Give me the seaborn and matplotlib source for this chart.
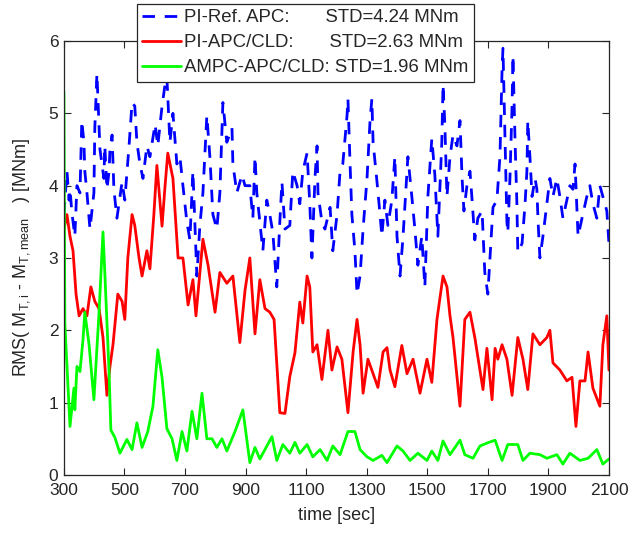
import matplotlib
matplotlib.use("Agg")
import matplotlib.pyplot as plt
import seaborn as sns
import pandas as pd

# --- RMS torque deviation, PI reference controller with APC ---
t_ref = [300, 310, 317, 320, 326, 336, 343, 353, 359, 366, 369, 376, 386, 399, 402, 409, 416, 419,
         432, 435, 442, 449, 452, 459, 465, 475, 485, 492, 501, 515, 525, 534, 541, 551, 561, 574,
         584, 601, 610, 624, 634, 640, 650, 660, 673, 683, 693, 706, 716, 726, 739, 749, 759, 772,
         782, 792, 805, 815, 825, 838, 855, 858, 871, 888, 898, 914, 924, 931, 937, 947, 957, 970,
         980, 990, 1003, 1013, 1020, 1030, 1046, 1056, 1070, 1079, 1089, 1103, 1112, 1119, 1129,
         1136, 1139, 1152, 1162, 1179, 1188, 1202, 1212, 1221, 1235, 1238, 1245, 1251, 1261, 1268,
         1278, 1288, 1301, 1311, 1317, 1321, 1334, 1344, 1350, 1360, 1370, 1383, 1393, 1400, 1410,
         1420, 1436, 1449, 1459, 1469, 1482, 1492, 1502, 1515, 1525, 1535, 1548, 1552, 1558, 1565,
         1575, 1585, 1598, 1608, 1615, 1621, 1631, 1641, 1648, 1657, 1667, 1681, 1690, 1700, 1707,
         1717, 1730, 1740, 1747, 1750, 1757, 1763, 1766, 1773, 1780, 1783, 1790, 1796, 1799, 1813,
         1823, 1829, 1832, 1839, 1846, 1856, 1862, 1866, 1872, 1882, 1895, 1905, 1915, 1928, 1938,
         1948, 1961, 1971, 1981, 1988, 1994, 1998, 2011, 2027, 2037, 2047, 2060, 2070, 2080, 2093,
         2100]
rms_ref = [3.6, 4.2, 3.8, 3.95, 3.64, 3.3, 4.0, 3.9, 4.9, 4.6, 4.2, 3.9, 3.4, 3.9, 4.8, 5.55, 4.8, 4.5,
           4.1, 4.55, 3.95, 4.2, 4.5, 4.7, 3.95, 3.55, 3.85, 4.05, 3.8, 4.55, 5.15, 5.1, 4.6, 4.3, 4.1, 4.55,
           4.4, 4.85, 4.55, 5.1, 5.4, 5.5, 4.6, 5.0, 4.3, 4.4, 4.0, 3.5, 3.25, 4.2, 2.75, 3.45, 3.9, 4.97,
           4.4, 3.6, 3.4, 3.9, 5.15, 4.6, 4.8, 4.3, 3.9, 4.15, 4.0, 4.0, 3.55, 4.4, 3.9, 3.5, 3.1, 3.8,
           3.6, 3.35, 2.6, 3.5, 4.05, 3.4, 3.45, 4.2, 4.0, 3.75, 4.2, 4.45, 3.75, 3.0, 4.1,
           4.55, 3.9, 3.5, 3.4, 3.7, 3.1, 3.6, 4.2, 4.3, 4.97, 5.2, 4.3, 3.6, 3.1, 2.5,
           2.75, 3.4, 4.1, 4.9, 5.2, 4.6, 4.05, 3.6, 3.3, 3.8, 3.45, 3.8, 4.4, 3.3, 2.75,
           3.3, 4.4, 3.85, 3.4, 2.9, 3.3, 2.6, 3.85, 4.65, 4.15, 3.3, 4.6, 5.4, 4.85, 3.85,
           4.4, 4.7, 4.55, 4.9, 4.1, 3.65, 4.0, 4.2, 3.8, 3.25, 3.55, 3.65, 2.8, 2.5, 3.0,
           3.7, 3.8, 4.4, 5.6, 5.9, 4.6, 3.5, 3.35, 4.1, 5.1, 5.8, 4.6, 3.75, 3.08, 3.2,
           3.75, 4.2, 4.9, 4.4, 3.85, 4.1, 3.95, 3.5, 3.0, 3.3, 3.75, 4.1, 3.85, 4.1, 3.85,
           3.55, 3.8, 4.0, 3.95, 4.3, 3.7, 3.3, 3.55, 3.85, 4.0, 3.75, 3.55, 4.0, 3.85, 3.65,
           3.2]

# --- PI controller with APC and CLD ---
t_pi = [300, 310, 320, 330, 340, 350, 363, 376, 389, 402, 416, 429, 442, 452, 462, 478, 492, 501,
        511, 525, 534, 548, 558, 574, 584, 597, 607, 624, 634, 643, 660, 677, 693, 710, 726, 736,
        759, 776, 799, 815, 838, 858, 881, 898, 914, 931, 947, 964, 980, 994, 1013, 1030, 1046,
        1063, 1079, 1089, 1103, 1112, 1122, 1136, 1152, 1172, 1185, 1202, 1218, 1238, 1255, 1268,
        1278, 1288, 1304, 1321, 1337, 1354, 1367, 1377, 1393, 1416, 1433, 1453, 1476, 1499, 1515,
        1532, 1552, 1565, 1575, 1585, 1608, 1624, 1641, 1657, 1684, 1697, 1714, 1724, 1733, 1747,
        1763, 1780, 1799, 1816, 1832, 1849, 1872, 1895, 1905, 1915, 1938, 1961, 1978, 1991, 2004,
        2021, 2031, 2047, 2070, 2080, 2093, 2100]
rms_pi = [3.4, 3.6, 3.3, 3.1, 2.5, 2.2, 2.3, 2.2, 2.6, 2.4, 2.3, 1.9, 1.1, 1.5, 1.8, 2.5, 2.4, 2.15,
          3.0, 3.6, 3.45, 3.0, 2.75, 3.1, 2.85, 3.6, 4.28, 3.44, 4.0, 4.45, 4.1, 3.0, 3.0, 2.35, 2.7, 2.2,
          3.26, 2.9, 2.25, 2.8, 2.65, 2.75, 1.83, 2.55, 3.0, 1.95, 2.7, 2.3, 2.25, 2.15, 0.86, 0.85, 1.36,
          1.69, 2.39, 2.1, 2.75, 2.6, 1.7, 1.8, 1.32, 2.0, 1.45, 1.77, 1.6, 0.86, 1.7, 2.15,
          1.8, 1.13, 1.6, 1.4, 1.21, 1.7, 1.76, 1.45, 1.22, 1.79, 1.4, 1.6, 1.13, 1.6, 1.28,
          2.15, 2.75, 2.6, 2.2, 1.9, 0.95, 2.15, 2.25, 1.9, 1.18, 1.75, 1.04, 1.75, 1.6, 1.8,
          1.6, 1.1, 1.9, 1.6, 1.18, 1.95, 1.8, 1.9, 2.0, 1.55, 1.45, 1.3, 1.35, 0.67, 1.3,
          1.3, 1.7, 1.2, 0.95, 1.8, 2.2, 1.45]

# --- AMPC controller with APC and CLD ---
t_ampc = [300, 303, 320, 333, 336, 343, 353, 363, 369, 383, 399, 416, 429, 435, 449, 455, 468, 485,
          508, 525, 541, 558, 577, 594, 610, 624, 640, 657, 673, 690, 706, 723, 739, 756, 772, 789,
          805, 822, 838, 865, 891, 914, 931, 947, 987, 1003, 1023, 1046, 1063, 1079, 1103, 1122,
          1146, 1169, 1188, 1212, 1238, 1261, 1278, 1301, 1321, 1350, 1367, 1400, 1420, 1443, 1469,
          1499, 1515, 1535, 1552, 1575, 1608, 1624, 1651, 1674, 1697, 1724, 1747, 1766, 1799, 1816,
          1839, 1872, 1895, 1928, 1948, 1971, 2004, 2031, 2060, 2080, 2100]
rms_ampc = [5.3, 2.1, 0.67, 1.2, 0.9, 1.5, 1.43, 1.87, 2.25, 1.8, 1.04, 2.25, 3.36, 2.8, 1.43, 0.62, 0.52, 0.3,
            0.49, 0.35, 0.72, 0.38, 0.6, 0.95, 1.73, 1.35, 0.64, 0.5, 0.2, 0.6, 0.33, 0.88, 0.5, 1.13, 0.5, 0.5,
            0.38, 0.5, 0.33, 0.6, 0.9, 0.17, 0.38, 0.22, 0.53, 0.2, 0.42, 0.3, 0.45, 0.3, 0.42, 0.25,
            0.35, 0.2, 0.4, 0.28, 0.6, 0.6, 0.35, 0.25, 0.2, 0.27, 0.17, 0.4, 0.33, 0.2, 0.3,
            0.2, 0.33, 0.2, 0.47, 0.28, 0.48, 0.28, 0.23, 0.4, 0.44, 0.48, 0.2, 0.42, 0.42, 0.2,
            0.3, 0.28, 0.23, 0.28, 0.15, 0.3, 0.2, 0.23, 0.35, 0.15, 0.22]

labels = ["PI-Ref. APC:       STD=4.24 MNm",
          "PI-APC/CLD:       STD=2.63 MNm",
          "AMPC-APC/CLD: STD=1.96 MNm"]
x_ticks = [300, 500, 700, 900, 1100, 1300, 1500, 1700, 1900, 2100]
y_ticks = [0, 1, 2, 3, 4, 5, 6]

sns.set_theme(style="white")
plt.rcParams["font.family"] = ["Liberation Sans", "DejaVu Sans"]
plt.rcParams["mathtext.fontset"] = "custom"
plt.rcParams["mathtext.rm"] = "Liberation Sans"
plt.rcParams["mathtext.it"] = "Liberation Sans"

axis_grey = "#262626"

fig = plt.figure(figsize=(6.33, 5.33), dpi=100)
ax = fig.add_axes([0.101, 0.109, 0.861, 0.814])

df_ref = pd.DataFrame({"t": t_ref, "rms": rms_ref})
df_pi = pd.DataFrame({"t": t_pi, "rms": rms_pi})
df_ampc = pd.DataFrame({"t": t_ampc, "rms": rms_ampc})

sns.lineplot(data=df_ref, x="t", y="rms", ax=ax, color="#0000ff", linewidth=2.0,
             linestyle=(0, (4.5, 3.5)), label=labels[0])
sns.lineplot(data=df_pi, x="t", y="rms", ax=ax, color="#ff0000", linewidth=2.0, label=labels[1])
sns.lineplot(data=df_ampc, x="t", y="rms", ax=ax, color="#00ff00", linewidth=2.0, label=labels[2])

ax.set_xlim(300, 2100)
ax.set_ylim(0, 6)
ax.set_xticks(x_ticks)
ax.set_yticks(y_ticks)
ax.tick_params(direction="in", length=5, width=0.8, colors=axis_grey, labelsize=12.5,
               top=True, right=True, bottom=True, left=True, labelcolor=axis_grey)
ax.tick_params(axis="x", pad=6)
ax.tick_params(axis="y", pad=4)
for s in ax.spines.values():
    s.set_visible(True)
    s.set_color(axis_grey)
    s.set_linewidth(0.9)

ax.set_xlabel("time [sec]", fontsize=13, color=axis_grey, labelpad=6)
ax.set_ylabel(r"RMS( M$_{T,i}$ - M$_{T,mean}$   ) [MNm]", fontsize=13, color=axis_grey, labelpad=12)

leg = ax.legend(loc="upper left", bbox_to_anchor=(0.216, 0.993), bbox_transform=fig.transFigure,
                fontsize=13.4, frameon=True, fancybox=False, framealpha=1.0, edgecolor="#262626",
                handlelength=2.1, handletextpad=0.15, borderpad=0.3, labelspacing=0.42,
                borderaxespad=0.0)
leg.get_frame().set_linewidth(0.9)

fig.savefig("out.png", dpi=100)
